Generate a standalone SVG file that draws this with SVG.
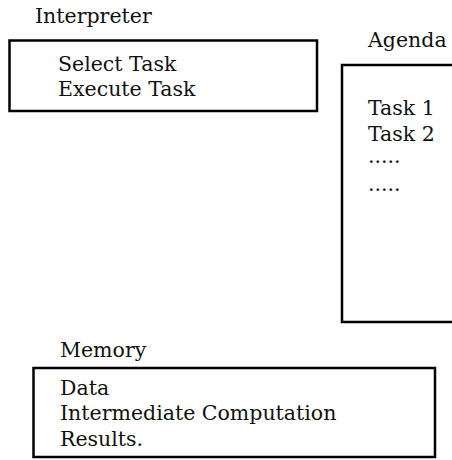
<svg xmlns="http://www.w3.org/2000/svg" width="452" height="460" viewBox="0 0 452 460">
<style>
  .box { fill: none; stroke: #000; stroke-width: 2.5; }
  .t { font-family: "DejaVu Serif", "Liberation Serif", serif; font-size: 20.5px; fill: #111; }
</style>
<rect width="452" height="460" fill="#fff"/>
<g id="interpreter">
  <text class="t" x="35" y="23">Interpreter</text>
  <rect class="box" x="9.5" y="40.5" width="307.5" height="70.5"/>
  <text class="t" x="58" y="71">Select Task</text>
  <text class="t" x="58" y="96">Execute Task</text>
</g>
<g id="agenda">
  <text class="t" x="368" y="47">Agenda</text>
  <rect class="box" x="342" y="65" width="130" height="257"/>
  <text class="t" x="368" y="115">Task 1</text>
  <text class="t" x="368" y="141">Task 2</text>
  <text class="t" x="368" y="163">.....</text>
  <text class="t" x="368" y="191">.....</text>
</g>
<g id="memory">
  <text class="t" x="60" y="357">Memory</text>
  <rect class="box" x="33.5" y="368" width="401.5" height="89"/>
  <text class="t" x="60" y="395">Data</text>
  <text class="t" x="60" y="420">Intermediate Computation</text>
  <text class="t" x="60" y="446">Results.</text>
</g>
<g id="connectors"></g>
</svg>
